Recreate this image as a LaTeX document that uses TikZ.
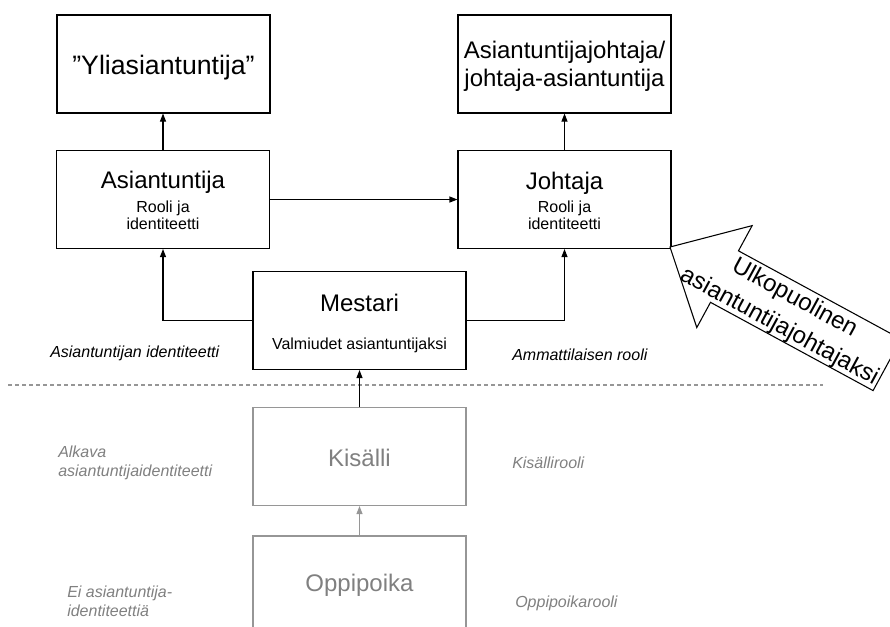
\documentclass[tikz,border=0pt]{standalone}
\usepackage{fontspec}
\setmainfont{Liberation Sans}
\usetikzlibrary{arrows.meta}
\definecolor{paleline}{RGB}{150,150,150}
\definecolor{paletext}{RGB}{128,128,128}
\begin{document}
\begin{tikzpicture}[x=0.75pt,y=-0.75pt,
  box/.style={draw, line width=0.8pt, minimum width=159.75pt, minimum height=73.5pt, inner sep=0pt},
  palebox/.style={box, draw=paleline},
  title/.style={font=\fontsize{18}{21}\selectfont, align=center, inner sep=0pt},
  bigtitle/.style={font=\fontsize{20}{22}\selectfont, align=center, inner sep=0pt},
  sub/.style={font=\fontsize{12}{12.75}\selectfont, align=center, inner sep=0pt},
  note/.style={font=\fontsize{12}{14}\selectfont\itshape, align=left, anchor=west, inner sep=0pt},
  palenote/.style={note, text=paletext},
  link/.style={line width=0.8pt, -{Triangle[length=6pt,width=4.5pt]}},
  palelink/.style={link, draw=paleline, fill=paleline},
  ]
\path[use as bounding box] (0,0) rectangle (890,626);
\clip (0,0) rectangle (890,626);

% upper level boxes
\node[box] (yli) at (163.5,64) {};
\node[bigtitle] (yliT) at (163.5,68) {”Yliasiantuntija”};
\node[box] (aj) at (564.5,64) {};
\node[title] (ajT) at (564.5,66) {Asiantuntijajohtaja/\\johtaja-asiantuntija};

% middle level boxes
\node[box] (asi) at (163,199.5) {};
\node[title] (asiT) at (163,182) {Asiantuntija};
\node[sub] (asiS) at (163,215) {Rooli ja\\identiteetti};
\node[box] (joh) at (564.5,199.5) {};
\node[title] (johT) at (564.5,183) {Johtaja};
\node[sub] (johS) at (564.5,215) {Rooli ja\\identiteetti};

\node[box] (mes) at (359.5,320.5) {};
\node[title] (mesT) at (359.5,303) {Mestari};
\node[sub] (mesS) at (359.5,345) {Valmiudet asiantuntijaksi};

% lower, earlier stages
\node[palebox] (kis) at (359.5,456.5) {};
\node[title, text=paletext] (kisT) at (359.5,458) {Kisälli};
\node[palebox] (opp) at (359.5,585) {};
\node[title, text=paletext] (oppT) at (359.5,585) {Oppipoika};

% side notes
\node[note] (n1) at (50,353) {Asiantuntijan identiteetti};
\node[note] (n2) at (512,355) {Ammattilaisen rooli};
\node[palenote] (n3) at (58,463) {Alkava\\asiantuntijaidentiteetti};
\node[palenote] (n4) at (512,463) {Kisällirooli};
\node[palenote] (n5) at (67,601) {Ei asiantuntija-\\identiteettiä};
\node[palenote] (n6) at (515,603) {Oppipoikarooli};

% separator between stages
\coordinate (sepL) at (8,385);
\coordinate (sepR) at (823,385);
\draw[paleline, line width=0.8pt, dash pattern=on 3pt off 2.25pt] (sepL) -- (sepR);

% connectors
\draw[link] (asi.north) -- (asi.north |- yli.south);
\draw[link] (joh.north) -- (joh.north |- aj.south);
\draw[link] (asi.east) -- (joh.west);
\draw[link] (mes.west) -| (asi.south);
\draw[link] (mes.east) -| (joh.south);
\draw[link] (kis.north) -- (mes.south);
\draw[palelink] (opp.north) -- (kis.south);

% block arrow from outside
\begin{scope}[shift={(670,247)}, rotate=-28.5]
  \draw[line width=0.8pt, fill=white] (0,0) -- (62,-58) -- (62,-29.3) -- (247,-29.3)
    -- (247,29.3) -- (62,29.3) -- (62,58) -- cycle;
  \node[title, transform shape, font=\fontsize{18}{24}\selectfont] (ulko) at (134,2)
    {Ulkopuolinen\\asiantuntijajohtajaksi};
\end{scope}
\end{tikzpicture}
\end{document}
